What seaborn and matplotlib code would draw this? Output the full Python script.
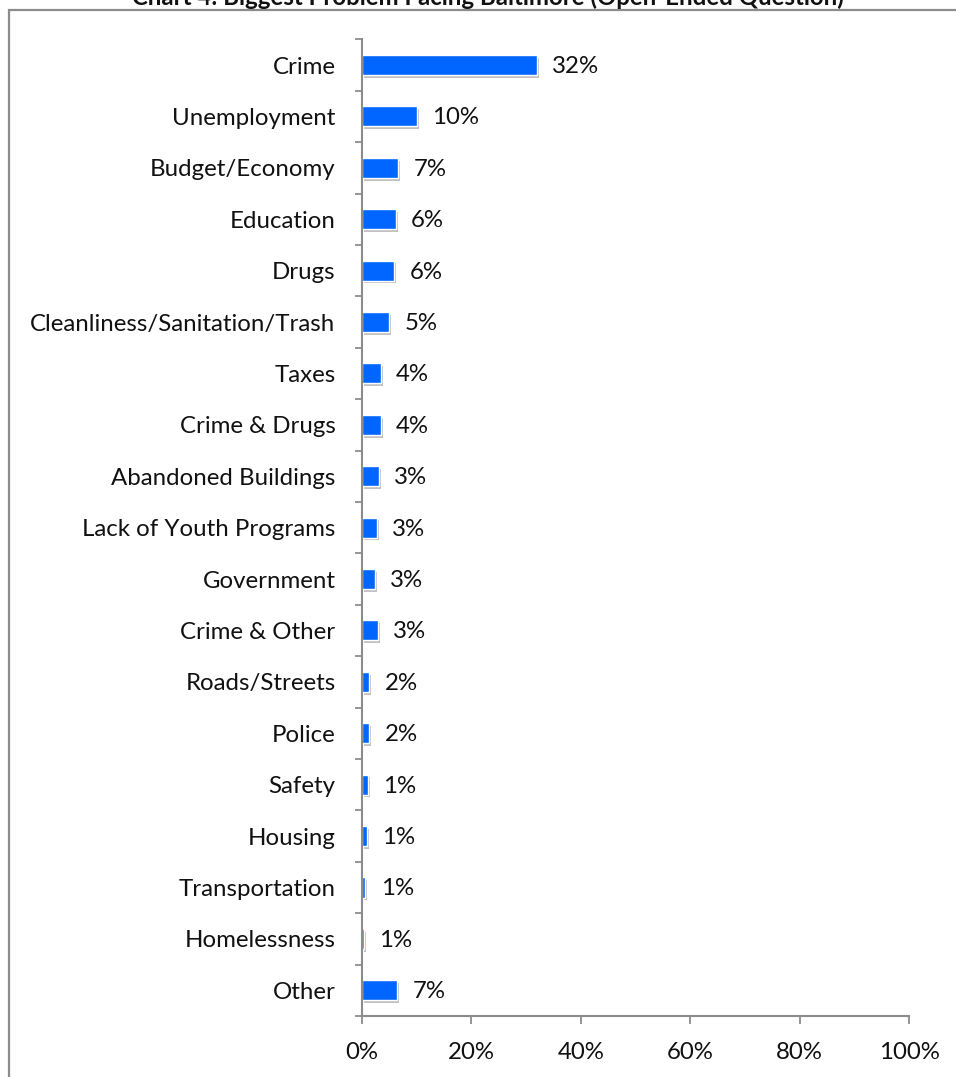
import matplotlib
matplotlib.use('Agg')
import matplotlib.pyplot as plt
import matplotlib.patheffects as pe
from matplotlib.patches import Rectangle
from matplotlib.ticker import MultipleLocator, PercentFormatter
import seaborn as sns
import pandas as pd

# Data (bar lengths, labels as printed)
categories = ['Crime', 'Unemployment', 'Budget/Economy', 'Education', 'Drugs',
              'Cleanliness/Sanitation/Trash', 'Taxes', 'Crime & Drugs',
              'Abandoned Buildings', 'Lack of Youth Programs', 'Government',
              'Crime & Other', 'Roads/Streets', 'Police', 'Safety', 'Housing',
              'Transportation', 'Homelessness', 'Other']
values = [32.0, 10.0, 6.6, 6.2, 5.9, 5.0, 3.4, 3.4, 3.1, 2.7, 2.4, 2.9,
          1.3, 1.3, 1.1, 0.9, 0.6, 0.35, 6.4]
shown = [32, 10, 7, 6, 6, 5, 4, 4, 3, 3, 3, 3, 2, 2, 1, 1, 1, 1, 7]

df = pd.DataFrame({'problem': categories, 'pct': values})

sns.set_style('white')
plt.rcParams['font.family'] = ['Lato', 'DejaVu Sans']
FS = 17.3

fig = plt.figure(figsize=(9.56, 10.77), dpi=100)
ax = fig.add_axes([362 / 956, 1 - 1016 / 1077, 547 / 956, (1016 - 39.3) / 1077])

sns.barplot(data=df, x='pct', y='problem', orient='h', color='#0066FF',
            width=0.39, edgecolor='white', linewidth=1, saturation=1, ax=ax)

# soft drop shadow like the spreadsheet bars
for p in ax.patches:
    p.set_path_effects([pe.SimplePatchShadow(offset=(1.5, -2), shadow_rgbFace='#999999', alpha=0.6),
                        pe.Normal()])

for i, (v, s) in enumerate(zip(values, shown)):
    ax.annotate(f'{s}%', xy=(v, i), xytext=(11, -1), textcoords='offset points',
                va='center', ha='left', fontsize=FS, color='#111111')

ax.set_xlim(0, 100)
ax.set_ylim(len(categories) - 0.5, -0.5)
ax.xaxis.set_major_locator(MultipleLocator(20))
ax.xaxis.set_major_formatter(PercentFormatter(decimals=0))
ax.set_yticks(range(len(categories)))
ax.set_yticks([i - 0.5 for i in range(len(categories) + 1)], minor=True)
ax.set_xlabel('')
ax.set_ylabel('')

ax.tick_params(axis='y', which='major', length=0, pad=19, labelsize=FS, labelcolor='#111111')
ax.tick_params(axis='y', which='minor', length=5, width=1.3, color='#8c8c8c', direction='out', left=True)
ax.tick_params(axis='x', which='major', length=5.5, width=1.3, color='#8c8c8c', direction='out',
               pad=13, labelsize=FS, labelcolor='#111111', bottom=True)

for side in ['top', 'right']:
    ax.spines[side].set_visible(False)
for side in ['left', 'bottom']:
    ax.spines[side].set_color('#8c8c8c')
    ax.spines[side].set_linewidth(1.5)

# outer chart frame (runs off the right and bottom edges)
fig.patches.append(Rectangle((9 / 956, -0.05), 1.2, 1.05 - 10 / 1077, transform=fig.transFigure,
                             fill=False, edgecolor='#8c8c8c', linewidth=1.6, zorder=0))

fig.text(488 / 956, 1 - 5 / 1077, 'Chart 4: Biggest Problem Facing Baltimore (Open-Ended Question)',
         ha='center', va='baseline', fontsize=FS, fontweight='bold', color='#111111')

fig.savefig('out.png', dpi=100)
